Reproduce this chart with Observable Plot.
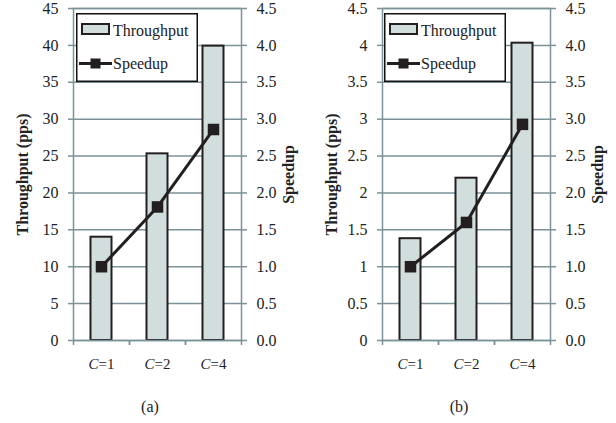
<!DOCTYPE html>
<html><head><meta charset="utf-8">
<script src="https://cdn.jsdelivr.net/npm/d3@7"></script>
<script src="https://cdn.jsdelivr.net/npm/@observablehq/plot@0.6"></script>
<style>
body{margin:0;background:#fff;}
#root{position:relative;width:616px;height:423px;font-family:'Liberation Serif',serif;overflow:hidden;}
#root svg, #root svg text{font-family:'Liberation Serif',serif !important;}
.layer{position:absolute;top:0;}
.cap{position:absolute;font-size:16px;line-height:18px;color:#222;text-align:center;width:60px;font-family:'Liberation Serif',serif;}
</style></head><body><div id="root"></div>
<script>
const categories = ["C=1", "C=2", "C=4"];
const throughputA = [14.0, 25.3, 39.9];
const speedupA = [1.0, 1.81, 2.86];
const throughputB = [1.38, 2.2, 4.03];
const speedupB = [1.0, 1.6, 2.93];
const leftTicksA = [0, 5, 10, 15, 20, 25, 30, 35, 40, 45];
const leftTicksB = [0, 0.5, 1, 1.5, 2, 2.5, 3, 3.5, 4, 4.5];
const rightTicks = [0, 0.5, 1, 1.5, 2, 2.5, 3, 3.5, 4, 4.5];
const captions = ["(a)", "(b)"];
const leftTitle = "Throughput (pps)";
const rightTitle = "Speedup";
const legendLabels = ["Throughput", "Speedup"];

const GRID = "#7a9298", BAR = "#d1dedd", DARK = "#231f20", TXT = "#222";
const FONT = "'Liberation Serif', serif";
const root = document.getElementById("root");

function serifize(svg) {
  d3.select(svg).selectAll("text").attr("font-family", FONT).style("font-family", FONT);
}

function panel({left, ml, mr, thr, spd, leftMax, leftTicks, leftFormat, caption, capX}) {
  const W = 308, H = 380, MT = 8, MB = 40;
  const half = (W - ml - mr) / categories.length / 2;
  const data = categories.map((c, i) => ({cat: c, thr: thr[i], spd: spd[i]}));
  const style = {fontFamily: FONT, fontSize: "16px", background: "transparent", color: TXT, overflow: "visible"};

  const base = Plot.plot({
    width: W, height: H, marginLeft: ml, marginRight: mr, marginTop: MT, marginBottom: MB,
    style,
    x: {type: "band", domain: categories, padding: 0, label: null},
    y: {domain: [0, leftMax], label: null},
    marks: [
      Plot.gridY(leftTicks, {stroke: GRID, strokeOpacity: 1, strokeWidth: 1.5}),
      Plot.barY(data, {x: "cat", y: "thr", fill: BAR, stroke: DARK, strokeWidth: 2, insetLeft: half - 10.5, insetRight: half - 10.5}),
      Plot.frame({stroke: GRID, strokeWidth: 1.5}),
      Plot.axisY(leftTicks, {anchor: "left", tickSize: 5, tickPadding: 10, stroke: GRID, strokeWidth: 1.5, fill: TXT, tickFormat: leftFormat, label: null, fontSize: 16}),
      Plot.axisX({tickSize: 0, tickPadding: 18, fill: TXT, label: null, fontSize: 15}),
      Plot.axisX({tickSize: 5, tickFormat: () => "", dx: -half, stroke: GRID, strokeWidth: 1.5, label: null}),
      Plot.axisX({tickSize: 5, tickFormat: () => "", dx: half, stroke: GRID, strokeWidth: 1.5, label: null}),
      Plot.text([leftTitle], {text: d => d, frameAnchor: "left", textAnchor: "middle", rotate: -90, dx: -51, fontWeight: "bold", fill: TXT, fontSize: 16})
    ]
  });
  base.classList.add("layer");
  base.style.left = left + "px";
  d3.select(base).selectAll("text").each(function() {
    const t = this.textContent;
    if (/^C=/.test(t)) {
      const el = d3.select(this);
      el.text(null);
      el.append("tspan").attr("font-style", "italic").text("C");
      el.append("tspan").text(t.slice(1));
    }
  });
  serifize(base);
  root.appendChild(base);

  // legend
  const lg = d3.create("svg").attr("class", "layer").attr("width", 122).attr("height", 69)
    .style("left", (left + 76) + "px").style("top", "13px");
  lg.append("rect").attr("x", 0.75).attr("y", 0.75).attr("width", 120.5).attr("height", 67.5)
    .attr("fill", "#fff").attr("stroke", "#111").attr("stroke-width", 1.5);
  lg.append("rect").attr("x", 6).attr("y", 11).attr("width", 27).attr("height", 10)
    .attr("fill", BAR).attr("stroke", DARK).attr("stroke-width", 2);
  lg.append("text").attr("x", 37).attr("y", 22.5).attr("font-size", 16).attr("fill", TXT).text(legendLabels[0]);
  lg.append("line").attr("x1", 3).attr("x2", 36).attr("y1", 50.5).attr("y2", 50.5).attr("stroke", DARK).attr("stroke-width", 3);
  lg.append("rect").attr("x", 14.5).attr("y", 45.5).attr("width", 10).attr("height", 10).attr("fill", DARK);
  lg.append("text").attr("x", 37).attr("y", 55.5).attr("font-size", 16).attr("fill", TXT).text(legendLabels[1]);
  serifize(lg.node());
  root.appendChild(lg.node());

  const over = Plot.plot({
    width: W, height: H, marginLeft: ml, marginRight: mr, marginTop: MT, marginBottom: MB,
    style,
    x: {type: "band", domain: categories, padding: 0, axis: null},
    y: {domain: [0, 4.5], label: null},
    marks: [
      Plot.axisY(rightTicks, {anchor: "right", tickSize: 5, tickPadding: 10, stroke: GRID, strokeWidth: 1.5, fill: TXT, tickFormat: d3.format(".1f"), label: null, fontSize: 16}),
      Plot.line(data, {x: "cat", y: "spd", stroke: DARK, strokeWidth: 3}),
      Plot.dot(data, {x: "cat", y: "spd", symbol: "square", r: 6.5, fill: DARK, stroke: "none"}),
      Plot.text([rightTitle], {text: d => d, frameAnchor: "right", textAnchor: "middle", rotate: -90, dx: 47, fontWeight: "bold", fill: TXT, fontSize: 16})
    ]
  });
  over.classList.add("layer");
  over.style.left = left + "px";
  serifize(over);
  root.appendChild(over);

  const cap = document.createElement("div");
  cap.className = "cap";
  cap.textContent = caption;
  cap.style.left = (capX - 30) + "px";
  cap.style.top = "398px";
  root.appendChild(cap);
}

panel({left: 0, ml: 73, mr: 67, thr: throughputA, spd: speedupA, leftMax: 45, leftTicks: leftTicksA, leftFormat: d3.format("d"), caption: captions[0], capX: 150});
panel({left: 308, ml: 74, mr: 66, thr: throughputB, spd: speedupB, leftMax: 4.5, leftTicks: leftTicksB, leftFormat: d => String(d), caption: captions[1], capX: 459});
</script></body></html>
